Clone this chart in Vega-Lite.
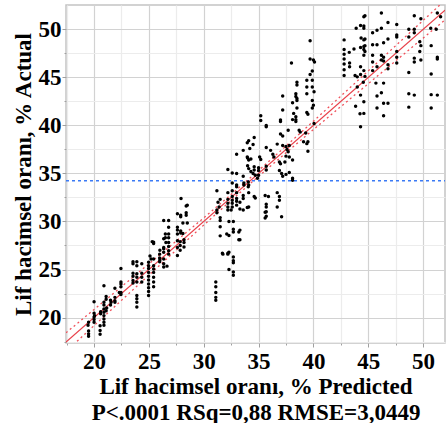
{
"$schema": "https://vega.github.io/schema/vega-lite/v6.json",
"width": 379, "height": 338,
"autosize": {"type": "none"},
"padding": {"left": 66, "top": 5, "right": 1, "bottom": 80},
"config": {"view": {"stroke": "#c4c4c4", "strokeWidth": 1.5}, "font": "Liberation Serif"},
"datasets": {
"pts": [
{"x":19.5,"y":18.3},{"x":19.5,"y":18.05},{"x":19.5,"y":19.5},{"x":19.45,"y":19.2},{"x":19.5,"y":18.6},
{"x":20.0,"y":21.65},{"x":20.0,"y":20.45},{"x":20.0,"y":20.05},{"x":20.0,"y":19.8},{"x":20.0,"y":19.5},{"x":20.05,"y":20.2},
{"x":20.55,"y":19.15},{"x":20.55,"y":18.65},{"x":20.55,"y":18.25},{"x":20.6,"y":20.6},{"x":20.6,"y":20.4},
{"x":20.9,"y":23.3},{"x":20.9,"y":21.6},{"x":20.9,"y":21.3},{"x":20.9,"y":20.9},{"x":20.9,"y":20.55},{"x":20.9,"y":20.2},{"x":20.9,"y":19.85},{"x":20.9,"y":19.5},{"x":20.9,"y":19.2},
{"x":21.1,"y":22.2},{"x":21.1,"y":21.9},{"x":21.15,"y":21.0},{"x":21.1,"y":20.7},
{"x":21.5,"y":21.8},{"x":21.55,"y":21.6},{"x":21.5,"y":21.3},
{"x":21.9,"y":23.05},{"x":21.9,"y":22.1},{"x":21.9,"y":21.75},{"x":21.9,"y":21.6},
{"x":22.45,"y":25.1},{"x":22.45,"y":23.7},{"x":22.45,"y":23.5},{"x":22.45,"y":23.2},{"x":22.45,"y":22.6},{"x":22.45,"y":22.4},{"x":22.3,"y":22.6},
{"x":23.55,"y":25.8},{"x":23.55,"y":25.6},{"x":23.55,"y":24.6},{"x":23.55,"y":24.3},{"x":23.55,"y":23.85},{"x":23.55,"y":23.6},
{"x":23.9,"y":25.8},{"x":23.9,"y":25.4},{"x":23.9,"y":24.55},{"x":23.9,"y":24.2},{"x":23.9,"y":23.7},{"x":23.9,"y":22.3},{"x":23.9,"y":21.95},{"x":23.9,"y":21.6},{"x":23.9,"y":21.1},
{"x":24.35,"y":25.6},{"x":24.35,"y":24.6},{"x":24.35,"y":24.2},{"x":24.35,"y":23.7},
{"x":24.97,"y":25.75},{"x":24.97,"y":25.4},{"x":24.97,"y":25.1},{"x":24.97,"y":24.7},{"x":24.97,"y":24.3},{"x":24.97,"y":23.9},{"x":24.97,"y":23.5},{"x":24.97,"y":23.1},{"x":24.97,"y":22.7},{"x":24.97,"y":22.3},
{"x":25.43,"y":27.85},{"x":25.43,"y":27.7},{"x":25.43,"y":26.1},{"x":25.43,"y":25.4},{"x":25.43,"y":25.05},{"x":25.43,"y":24.7},{"x":25.43,"y":24.2},{"x":25.43,"y":23.7},{"x":25.43,"y":23.2},
{"x":25.3,"y":27.9},{"x":25.1,"y":26.4},{"x":25.2,"y":26.1},
{"x":25.98,"y":26.6},{"x":25.98,"y":26.2},{"x":25.98,"y":25.8},{"x":26.0,"y":27.0},{"x":26.0,"y":26.0},
{"x":26.35,"y":30.1},{"x":26.35,"y":28.2},{"x":26.35,"y":27.3},{"x":26.35,"y":27.15},{"x":26.35,"y":26.8},{"x":26.35,"y":26.1},{"x":26.35,"y":25.6},{"x":26.35,"y":25.25},
{"x":26.5,"y":28.7},{"x":26.5,"y":28.3},{"x":26.55,"y":27.8},{"x":26.65,"y":25.35},
{"x":26.8,"y":30.1},{"x":26.8,"y":29.4},{"x":26.8,"y":28.7},{"x":26.8,"y":28.3},{"x":26.8,"y":27.8},{"x":26.8,"y":27.4},{"x":26.8,"y":26.95},{"x":26.8,"y":26.6},
{"x":27.6,"y":30.8},{"x":27.6,"y":29.4},{"x":27.6,"y":29.1},{"x":27.6,"y":28.7},{"x":27.6,"y":28.0},{"x":27.6,"y":27.3},{"x":27.6,"y":26.45},
{"x":27.93,"y":32.4},{"x":27.9,"y":30.65},{"x":27.9,"y":30.5},{"x":27.9,"y":29.0},{"x":27.9,"y":28.8},{"x":27.85,"y":27.9},{"x":27.85,"y":27.5},{"x":27.85,"y":27.0},
{"x":28.1,"y":29.85},{"x":28.2,"y":28.1},{"x":28.2,"y":27.8},{"x":28.2,"y":27.35},{"x":28.1,"y":28.75},
{"x":28.4,"y":31.6},{"x":28.4,"y":30.9},{"x":28.4,"y":30.65},{"x":28.5,"y":29.85},{"x":28.5,"y":31.7},
{"x":31.1,"y":23.7},{"x":31.1,"y":23.2},{"x":31.1,"y":22.6},{"x":31.1,"y":22.1},{"x":31.1,"y":21.8},
{"x":31.2,"y":33.2},{"x":31.5,"y":32.3},{"x":31.4,"y":31.5},{"x":31.2,"y":31.2},{"x":31.3,"y":32.0},
{"x":31.2,"y":30.9},{"x":31.5,"y":30.4},{"x":31.5,"y":30.1},{"x":31.5,"y":29.45},{"x":31.5,"y":28.5},
{"x":31.7,"y":26.7},{"x":31.75,"y":26.6},{"x":32.2,"y":26.7},{"x":32.2,"y":26.6},
{"x":32.2,"y":35.4},{"x":32.2,"y":33.0},{"x":32.2,"y":32.3},{"x":32.2,"y":31.9},{"x":32.2,"y":31.5},{"x":32.2,"y":31.2},
{"x":32.1,"y":28.7},{"x":32.3,"y":30.0},{"x":32.3,"y":28.55},{"x":32.3,"y":26.8},{"x":32.3,"y":25.0},
{"x":32.6,"y":35.05},{"x":32.6,"y":34.0},{"x":32.6,"y":33.2},{"x":32.6,"y":32.6},{"x":32.6,"y":32.2},{"x":32.6,"y":31.9},{"x":32.6,"y":31.5},{"x":32.5,"y":31.2},
{"x":32.7,"y":30.0},{"x":32.7,"y":28.9},{"x":32.7,"y":29.2},{"x":32.7,"y":26.3},{"x":32.7,"y":25.9},{"x":32.7,"y":25.7},{"x":32.7,"y":24.75},{"x":32.7,"y":24.4},
{"x":33.0,"y":37.0},{"x":33.0,"y":35.0},{"x":33.0,"y":33.8},{"x":33.0,"y":33.6},{"x":33.0,"y":33.0},{"x":33.0,"y":32.4},{"x":33.0,"y":32.1},{"x":33.0,"y":31.7},
{"x":33.2,"y":28.9},{"x":33.2,"y":28.1},
{"x":33.3,"y":32.0},{"x":33.3,"y":31.3},{"x":33.3,"y":29.1},{"x":33.3,"y":28.1},
{"x":33.6,"y":37.4},{"x":33.6,"y":34.7},{"x":33.66,"y":34.0},{"x":33.66,"y":33.8},{"x":33.6,"y":32.7},{"x":33.6,"y":32.4},{"x":33.6,"y":31.2},
{"x":33.97,"y":38.2},{"x":33.97,"y":36.7},{"x":33.97,"y":31.45},
{"x":34.0,"y":35.8},{"x":34.1,"y":35.5},{"x":34.3,"y":35.2},{"x":34.0,"y":36.6},{"x":34.1,"y":36.4},{"x":34.3,"y":36.5},
{"x":34.06,"y":34.1},{"x":34.1,"y":33.8},{"x":34.06,"y":33.6},{"x":34.1,"y":33.0},{"x":34.1,"y":31.5},
{"x":34.1,"y":38.4},{"x":34.6,"y":38.75},{"x":34.5,"y":38.0},{"x":34.2,"y":37.6},
{"x":34.6,"y":35.7},{"x":34.6,"y":35.35},{"x":34.6,"y":32.6},{"x":34.7,"y":32.45},
{"x":34.5,"y":35.0},{"x":34.7,"y":34.8},{"x":34.9,"y":34.5},
{"x":35.0,"y":35.6},{"x":35.0,"y":35.3},{"x":35.0,"y":34.8},
{"x":35.1,"y":36.7},{"x":35.2,"y":36.45},
{"x":35.2,"y":41.0},{"x":35.2,"y":40.5},
{"x":35.6,"y":30.35},{"x":35.6,"y":30.97},{"x":35.6,"y":32.7},{"x":35.7,"y":31.8},{"x":35.7,"y":31.5},{"x":35.7,"y":31.0},{"x":35.7,"y":30.55},
{"x":35.7,"y":40.0},{"x":35.7,"y":39.85},{"x":35.7,"y":37.7},{"x":35.7,"y":35.75},{"x":35.7,"y":35.35},{"x":35.9,"y":32.6},
{"x":36.1,"y":37.4},{"x":36.3,"y":37.0},{"x":36.4,"y":36.7},
{"x":36.7,"y":38.05},{"x":36.9,"y":36.2},{"x":37.0,"y":36.0},{"x":36.9,"y":35.3},{"x":37.1,"y":35.0},{"x":36.7,"y":33.0},{"x":36.9,"y":32.6},{"x":36.9,"y":32.2},{"x":36.7,"y":31.5},
{"x":37.0,"y":40.55},{"x":37.0,"y":40.4},{"x":37.0,"y":39.1},{"x":37.2,"y":38.9},
{"x":37.2,"y":43.05},{"x":37.2,"y":41.6},{"x":37.1,"y":30.5},
{"x":37.2,"y":37.9},{"x":37.5,"y":37.8},{"x":37.6,"y":37.5},{"x":37.7,"y":37.25},{"x":37.8,"y":37.9},{"x":37.7,"y":39.5},
{"x":37.5,"y":36.8},{"x":37.8,"y":36.7},{"x":38.1,"y":36.4},{"x":37.4,"y":36.2},
{"x":37.2,"y":34.7},{"x":37.5,"y":34.9},{"x":37.8,"y":35.1},{"x":38.1,"y":34.5},{"x":38.1,"y":34.3},
{"x":38.0,"y":46.5},{"x":38.5,"y":44.5},{"x":38.5,"y":44.2},{"x":38.4,"y":43.3},{"x":38.4,"y":43.0},{"x":38.5,"y":42.8},{"x":38.5,"y":42.6},{"x":38.1,"y":42.35},{"x":38.5,"y":41.8},
{"x":38.2,"y":41.25},{"x":38.4,"y":40.9},{"x":38.4,"y":40.6},{"x":38.4,"y":40.4},{"x":38.1,"y":40.6},
{"x":38.7,"y":39.5},{"x":38.8,"y":39.3},
{"x":39.7,"y":48.8},{"x":39.7,"y":46.9},{"x":40.0,"y":46.8},{"x":40.1,"y":46.6},{"x":39.9,"y":45.65},{"x":39.7,"y":45.3},{"x":39.4,"y":44.7},{"x":39.9,"y":44.7},{"x":39.4,"y":44.0},{"x":39.9,"y":44.0},{"x":40.06,"y":43.5},{"x":39.4,"y":43.3},{"x":39.9,"y":42.6},{"x":40.0,"y":42.1},{"x":39.9,"y":41.8},{"x":39.4,"y":41.35},{"x":39.5,"y":41.15},{"x":40.06,"y":40.2},
{"x":39.3,"y":39.2},{"x":39.5,"y":38.3},{"x":39.1,"y":38.3},{"x":39.4,"y":38.1},{"x":39.5,"y":37.3},
{"x":42.8,"y":48.9},{"x":42.8,"y":47.9},{"x":42.8,"y":47.4},{"x":42.8,"y":46.9},{"x":42.8,"y":46.4},{"x":42.8,"y":45.8},{"x":42.8,"y":45.2},
{"x":43.27,"y":47.6},{"x":43.3,"y":46.5},{"x":43.3,"y":46.1},{"x":43.9,"y":50.1},{"x":44.3,"y":50.4},{"x":44.6,"y":50.1},{"x":44.35,"y":49.1},{"x":44.6,"y":48.9},{"x":44.6,"y":51.3},
{"x":44.3,"y":48.1},{"x":44.6,"y":48.2},{"x":44.6,"y":47.9},{"x":44.6,"y":47.3},{"x":43.7,"y":47.95},
{"x":43.8,"y":45.2},{"x":44.0,"y":45.05},{"x":44.3,"y":45.3},{"x":44.0,"y":44.0},{"x":44.3,"y":43.15},
{"x":44.6,"y":42.45},{"x":44.6,"y":41.25},{"x":44.3,"y":39.85},{"x":43.85,"y":42.0},{"x":44.25,"y":41.2},
{"x":44.7,"y":51.4},{"x":44.6,"y":50.35},{"x":44.7,"y":49.0},{"x":44.7,"y":48.3},{"x":44.7,"y":47.7},
{"x":44.3,"y":46.1},{"x":44.6,"y":45.7},{"x":44.7,"y":45.1},{"x":44.55,"y":44.5},
{"x":46.2,"y":51.7},{"x":49.2,"y":51.4},{"x":49.8,"y":51.1},{"x":51.3,"y":51.7},{"x":51.6,"y":51.3},
{"x":46.8,"y":50.7},{"x":47.6,"y":50.5},{"x":46.2,"y":50.1},{"x":45.8,"y":49.9},{"x":45.4,"y":49.65},
{"x":48.7,"y":50.0},{"x":49.2,"y":50.0},{"x":49.2,"y":49.65},{"x":50.7,"y":50.1},{"x":51.2,"y":50.0},
{"x":47.6,"y":49.4},{"x":47.6,"y":49.2},{"x":46.8,"y":49.0},{"x":46.4,"y":48.6},{"x":45.4,"y":48.4},{"x":45.8,"y":48.4},
{"x":48.7,"y":49.2},{"x":49.7,"y":48.7},{"x":49.8,"y":48.3},{"x":50.74,"y":48.3},
{"x":47.6,"y":47.7},{"x":46.2,"y":47.3},{"x":46.4,"y":47.1},{"x":46.2,"y":46.8},{"x":46.4,"y":46.7},
{"x":45.4,"y":47.3},{"x":45.4,"y":46.6},{"x":49.7,"y":47.7},{"x":49.8,"y":46.8},{"x":49.2,"y":47.0},{"x":49.2,"y":46.6},{"x":47.6,"y":47.1},{"x":47.6,"y":46.5},
{"x":46.8,"y":46.3},{"x":46.8,"y":45.9},{"x":51.3,"y":47.1},{"x":51.3,"y":46.9},
{"x":45.8,"y":46.1},{"x":45.4,"y":45.7},{"x":48.7,"y":45.5},{"x":50.74,"y":45.35},{"x":46.4,"y":44.4},{"x":45.7,"y":44.4},
{"x":46.2,"y":43.4},{"x":45.8,"y":43.05},{"x":48.7,"y":43.3},{"x":49.2,"y":43.15},{"x":50.74,"y":43.2},{"x":51.3,"y":43.15},
{"x":46.4,"y":42.3},{"x":46.8,"y":42.3},{"x":45.8,"y":41.8},{"x":48.7,"y":41.9},{"x":50.74,"y":41.8},{"x":46.4,"y":41.0}
],
"fit": [{"x":17.44,"y":17.44},{"x":52.0,"y":52.0}],
"mean": [{"x":17.44,"y":34.23},{"x":52.0,"y":34.23}],
"band": [
{"x":17.44,"y":18.41,"side":"u"},{"x":20,"y":20.84,"side":"u"},{"x":22,"y":22.735,"side":"u"},{"x":24,"y":24.636,"side":"u"},{"x":26,"y":26.542,"side":"u"},{"x":28,"y":28.454,"side":"u"},{"x":30,"y":30.379,"side":"u"},{"x":32,"y":32.323,"side":"u"},{"x":34.2,"y":34.5,"side":"u"},{"x":36,"y":36.316,"side":"u"},{"x":38,"y":38.366,"side":"u"},{"x":40,"y":40.438,"side":"u"},{"x":42,"y":42.524,"side":"u"},{"x":44,"y":44.617,"side":"u"},{"x":46,"y":46.715,"side":"u"},{"x":48,"y":48.816,"side":"u"},{"x":50,"y":50.919,"side":"u"},{"x":52,"y":53.02,"side":"u"},
{"x":17.44,"y":16.47,"side":"l"},{"x":20,"y":19.16,"side":"l"},{"x":22,"y":21.265,"side":"l"},{"x":24,"y":23.364,"side":"l"},{"x":26,"y":25.458,"side":"l"},{"x":28,"y":27.546,"side":"l"},{"x":30,"y":29.621,"side":"l"},{"x":32,"y":31.677,"side":"l"},{"x":34.2,"y":33.9,"side":"l"},{"x":36,"y":35.684,"side":"l"},{"x":38,"y":37.634,"side":"l"},{"x":40,"y":39.562,"side":"l"},{"x":42,"y":41.476,"side":"l"},{"x":44,"y":43.383,"side":"l"},{"x":46,"y":45.285,"side":"l"},{"x":48,"y":47.184,"side":"l"},{"x":50,"y":49.081,"side":"l"},{"x":52,"y":50.98,"side":"l"}
]
},
"encoding": {
"x": {"field": "x", "type": "quantitative",
 "scale": {"domain": [17.44, 52.0], "nice": false, "zero": false},
 "axis": {"values": [17.5,20,22.5,25,27.5,30,32.5,35,37.5,40,42.5,45,47.5,50], "format": "d",
  "labelExpr": "datum.value % 5 === 0 ? datum.label : ''",
  "grid": true,
  "gridColor": {"condition": {"test": "datum.value % 5 === 0", "value": "#d2d2d2"}, "value": "#ececec"},
  "gridWidth": 1.2,
  "domain": false, "tickColor": "#a0a0a0",
  "tickSize": {"condition": {"test": "datum.value % 5 === 0", "value": 4}, "value": 2},
  "labelFont": "Liberation Serif", "labelFontSize": 23, "labelFontWeight": "bold", "labelColor": "#000", "labelPadding": 3,
  "title": ["Lif hacimsel oranı, % Predicted", "P<.0001 RSq=0,88 RMSE=3,0449"],
  "titleFont": "Liberation Serif", "titleFontSize": 23, "titleFontWeight": "bold", "titleColor": "#000", "titlePadding": 2, "titleLineHeight": 26}},
"y": {"field": "y", "type": "quantitative",
 "scale": {"domain": [17.35, 52.53], "nice": false, "zero": false},
 "axis": {"values": [17.5,20,22.5,25,27.5,30,32.5,35,37.5,40,42.5,45,47.5,50], "format": "d",
  "labelExpr": "datum.value % 5 === 0 ? datum.label : ''",
  "grid": true,
  "gridColor": {"condition": {"test": "datum.value % 5 === 0", "value": "#d2d2d2"}, "value": "#ececec"},
  "gridWidth": 1.2,
  "domain": false, "tickColor": "#a0a0a0",
  "tickSize": {"condition": {"test": "datum.value % 5 === 0", "value": 4}, "value": 2},
  "labelFont": "Liberation Serif", "labelFontSize": 23, "labelFontWeight": "bold", "labelColor": "#000", "labelPadding": 1,
  "title": "Lif hacimsel oranı, % Actual",
  "titleFont": "Liberation Serif", "titleFontSize": 23, "titleFontWeight": "bold", "titleColor": "#000", "titlePadding": 3}}
},
"layer": [
{"data": {"name": "mean"}, "mark": {"type": "line", "color": "#3b7af5", "strokeWidth": 1.5, "strokeDash": [3, 3], "clip": true}},
{"data": {"name": "band"}, "mark": {"type": "line", "color": "#f0505a", "strokeWidth": 1.3, "strokeDash": [2, 3], "clip": true}, "encoding": {"detail": {"field": "side"}}},
{"data": {"name": "fit"}, "mark": {"type": "line", "color": "#e8404a", "strokeWidth": 1.2, "clip": true}},
{"data": {"name": "pts"}, "mark": {"type": "circle", "color": "#000", "size": 12, "opacity": 1}}
]
}
